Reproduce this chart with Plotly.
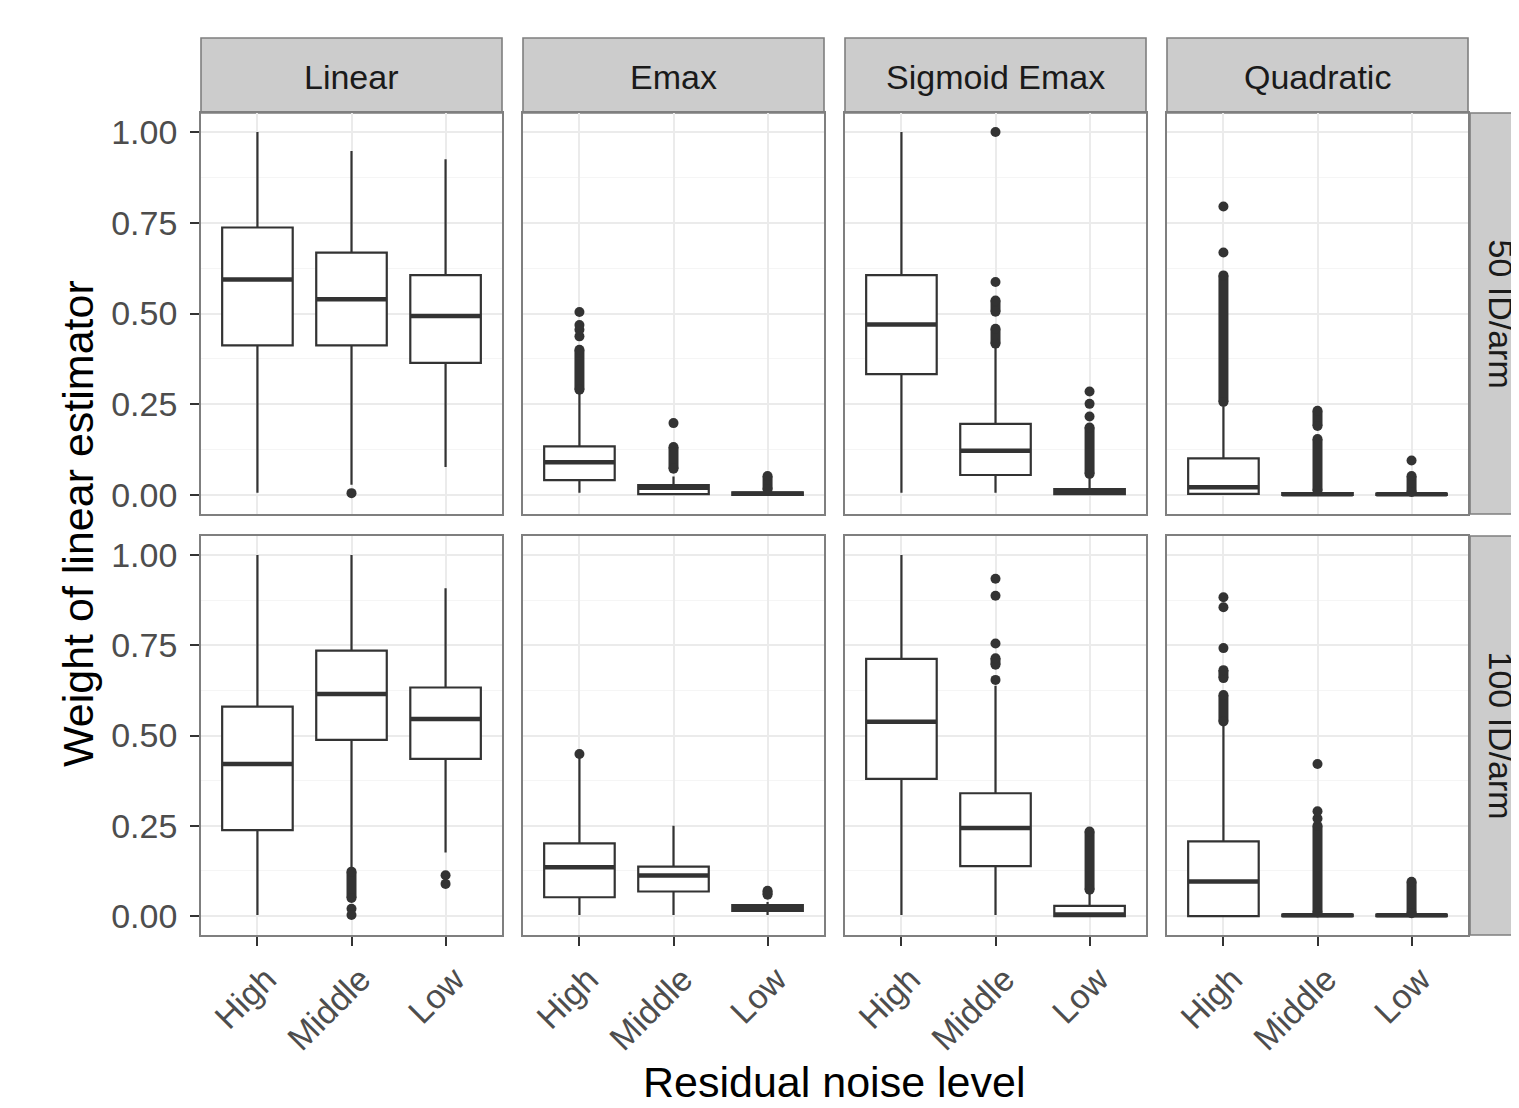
import plotly.graph_objects as go

# ---------------- data ----------------
MODELS = ["Linear", "Emax", "Sigmoid Emax", "Quadratic"]
SIZES = ["50 ID/arm", "100 ID/arm"]
NOISE = ["High", "Middle", "Low"]
Y_TICKS = [0.0, 0.25, 0.5, 0.75, 1.0]
Y_TICK_LABELS = ["0.00", "0.25", "0.50", "0.75", "1.00"]

# each row -> one model, each triple -> High, Middle, Low
WLO_50 = [[0.006, 0.028, 0.077], [0.006, 0.0, 0.0], [0.006, 0.006, 0.0], [0.0, 0.0, 0.0]]
Q1_50 = [[0.412, 0.412, 0.364], [0.041, 0.002, 0.0], [0.333, 0.055, 0.002], [0.003, 0.0, 0.0]]
MED_50 = [[0.594, 0.539, 0.493], [0.090, 0.020, 0.003], [0.470, 0.122, 0.008], [0.021, 0.002, 0.002]]
Q3_50 = [[0.737, 0.668, 0.606], [0.134, 0.027, 0.007], [0.606, 0.196, 0.016], [0.101, 0.005, 0.004]]
WHI_50 = [[1.0, 0.948, 0.925], [0.28, 0.051, 0.012], [1.0, 0.405, 0.046], [0.244, 0.005, 0.004]]
PTS_50 = [[[], [0.005], []],
          [[0.437, 0.455, 0.468, 0.504], [0.198], []],
          [[], [0.587, 1.0], [0.216, 0.251, 0.285]],
          [[0.668, 0.795], [], [0.095]]]
RUNS_50 = [[[], [], []],
           [[[0.29, 0.40]], [[0.072, 0.132]], [[0.016, 0.052]]],
           [[], [[0.417, 0.458], [0.505, 0.536]], [[0.058, 0.186]]],
           [[[0.256, 0.605]], [[0.012, 0.154], [0.19, 0.232]], [[0.008, 0.052]]]]

WLO_100 = [[0.003, 0.135, 0.176], [0.003, 0.003, 0.003], [0.003, 0.003, 0.0], [0.0, 0.0, 0.0]]
Q1_100 = [[0.238, 0.488, 0.435], [0.052, 0.068, 0.014], [0.380, 0.138, 0.0], [0.0, 0.0, 0.0]]
MED_100 = [[0.421, 0.615, 0.546], [0.135, 0.112, 0.022], [0.538, 0.244, 0.004], [0.096, 0.002, 0.002]]
Q3_100 = [[0.580, 0.735, 0.633], [0.201, 0.137, 0.030], [0.712, 0.340, 0.028], [0.207, 0.004, 0.004]]
WHI_100 = [[1.0, 1.0, 0.908], [0.44, 0.25, 0.039], [1.0, 0.638, 0.061], [0.527, 0.004, 0.004]]
PTS_100 = [[[], [0.02, 0.003], [0.113, 0.089]],
           [[0.449], [], []],
           [[], [0.654, 0.755, 0.887, 0.934], []],
           [[0.742, 0.855, 0.883], [0.27, 0.29, 0.421], []]]
RUNS_100 = [[[], [[0.05, 0.123]], []],
            [[], [], [[0.059, 0.07]]],
            [[], [[0.696, 0.714]], [[0.073, 0.234]]],
            [[[0.539, 0.612], [0.659, 0.681]], [[0.01, 0.25]], [[0.008, 0.095]]]]

STATS = [
    (WLO_50, Q1_50, MED_50, Q3_50, WHI_50, PTS_50, RUNS_50),
    (WLO_100, Q1_100, MED_100, Q3_100, WHI_100, PTS_100, RUNS_100),
]

# ---------------- layout geometry (page pixels) ----------------
PAGE_W, PAGE_H = 1519, 1108
OFF = 8  # default body margin of the html page
W, H = PAGE_W - OFF, PAGE_H - OFF
COL_X = [(201, 502), (523, 824), (845, 1146), (1167, 1468)]
ROW_Y = [(113, 514), (536, 935)]
STRIP_TOP = 38
RSTRIP_X0 = 1470


def px(p):
    return (p - OFF) / W


def py(p):
    return 1 - (p - OFF) / H


DARK = "#333333"
BORDER = "#7F7F7F"
STRIP_FILL = "#CCCCCC"
FONT = "Liberation Sans, Arial, sans-serif"
BOX_W = 0.75
Y_RANGE = [-0.0525, 1.0525]
X_RANGE = [-0.6, 2.6]
DOT = 10

fig = go.Figure()
layout = {}
shapes = []
annotations = []

for r in range(2):
    wlo, q1, med, q3, whi, pts, runs = STATS[r]
    for c in range(4):
        n = r * 4 + c + 1
        xa, ya = f"x{n}", f"y{n}"
        x0, x1 = COL_X[c]
        y0, y1 = ROW_Y[r]
        layout[f"xaxis{n}"] = dict(
            domain=[px(x0), px(x1)], anchor=ya, range=X_RANGE,
            tickvals=[0, 1, 2], ticktext=NOISE,
            showticklabels=(r == 1), ticks="outside" if r == 1 else "",
            ticklen=9, tickwidth=2.2, tickcolor=DARK, tickangle=-45,
            ticklabelshift=9,
            tickfont=dict(family=FONT, size=34, color="#4D4D4D"),
            showgrid=True, gridcolor="#EBEBEB", gridwidth=1.8,
            showline=True, mirror=True, linecolor=BORDER, linewidth=1.6,
            zeroline=False, fixedrange=True,
        )
        layout[f"yaxis{n}"] = dict(
            domain=[py(y1), py(y0)], anchor=xa, range=Y_RANGE,
            tickvals=Y_TICKS, ticktext=Y_TICK_LABELS,
            showticklabels=(c == 0), ticks="outside" if c == 0 else "",
            ticklen=9, tickwidth=2.2, tickcolor=DARK, ticklabelstandoff=6,
            tickfont=dict(family=FONT, size=34, color="#4D4D4D"),
            showgrid=True, gridcolor="#EBEBEB", gridwidth=1.8,
            minor=dict(tickvals=[0.125, 0.375, 0.625, 0.875], showgrid=True,
                       gridcolor="#F5F5F5", gridwidth=1.2, ticks=""),
            showline=True, mirror=True, linecolor=BORDER, linewidth=1.6,
            zeroline=False, fixedrange=True,
        )
        # boxes
        fig.add_trace(go.Box(
            x=[0, 1, 2], q1=q1[c], median=med[c], q3=q3[c],
            lowerfence=wlo[c], upperfence=whi[c], width=BOX_W, whiskerwidth=0,
            fillcolor="white", line=dict(color=DARK, width=2.2),
            boxpoints=False, xaxis=xa, yaxis=ya, showlegend=False, hoverinfo="skip",
        ))
        for i in range(3):
            # thick median line
            fig.add_trace(go.Scatter(
                x=[i - BOX_W / 2, i + BOX_W / 2], y=[med[c][i], med[c][i]],
                mode="lines", line=dict(color=DARK, width=4.5),
                xaxis=xa, yaxis=ya, showlegend=False, hoverinfo="skip",
            ))
            # dense outlier runs
            for lo, hi in runs[c][i]:
                fig.add_trace(go.Scatter(
                    x=[i, i], y=[lo, hi], mode="lines+markers",
                    line=dict(color=DARK, width=DOT),
                    marker=dict(color=DARK, size=DOT),
                    xaxis=xa, yaxis=ya, showlegend=False, hoverinfo="skip",
                ))
            # single outliers
            if pts[c][i]:
                fig.add_trace(go.Scatter(
                    x=[i] * len(pts[c][i]), y=pts[c][i], mode="markers",
                    marker=dict(color=DARK, size=DOT),
                    xaxis=xa, yaxis=ya, showlegend=False, hoverinfo="skip",
                ))

# top strips
for c in range(4):
    x0, x1 = COL_X[c]
    shapes.append(dict(type="rect", xref="paper", yref="paper",
                       x0=px(x0), x1=px(x1), y0=py(ROW_Y[0][0]), y1=py(STRIP_TOP),
                       fillcolor=STRIP_FILL, line=dict(color=BORDER, width=1.6), layer="below"))
    annotations.append(dict(text=MODELS[c], xref="paper", yref="paper",
                            x=px((x0 + x1) / 2), y=py(77), showarrow=False,
                            xanchor="center", yanchor="middle",
                            font=dict(family=FONT, size=34, color="#1A1A1A")))
# right strips
for r in range(2):
    y0, y1 = ROW_Y[r]
    shapes.append(dict(type="rect", xref="paper", yref="paper",
                       x0=px(RSTRIP_X0), x1=1.06, y0=py(y1), y1=py(y0),
                       fillcolor=STRIP_FILL, line=dict(color=BORDER, width=1.6), layer="below"))
    annotations.append(dict(text=SIZES[r], xref="paper", yref="paper",
                            x=px(1501), y=py((y0 + y1) / 2), showarrow=False,
                            textangle=90, xanchor="center", yanchor="middle",
                            font=dict(family=FONT, size=34, color="#1A1A1A")))

# axis titles
annotations.append(dict(text="Weight of linear estimator", xref="paper", yref="paper",
                        x=px(78), y=py(524), showarrow=False, textangle=-90,
                        xanchor="center", yanchor="middle",
                        font=dict(family=FONT, size=43, color="black")))
annotations.append(dict(text="Residual noise level", xref="paper", yref="paper",
                        x=px(834), y=0, showarrow=False,
                        xanchor="center", yanchor="bottom",
                        font=dict(family=FONT, size=43, color="black")))

fig.update_layout(
    width=W, height=H, margin=dict(l=0, r=0, t=0, b=0),
    paper_bgcolor="white", plot_bgcolor="white",
    shapes=shapes, annotations=annotations, showlegend=False,
    **layout,
)

fig.write_html("out.html")
